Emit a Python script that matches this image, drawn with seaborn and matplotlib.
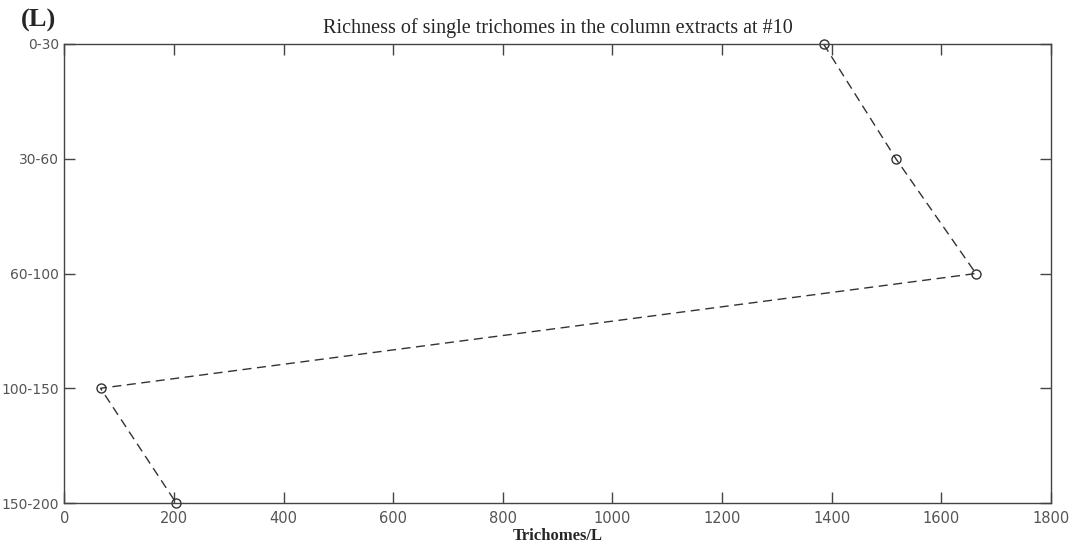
import matplotlib
matplotlib.use("Agg")
import matplotlib.pyplot as plt
import seaborn as sns
import numpy as np
import pandas as pd

depths = ["0-30", "30-60", "60-100", "100-150", "150-200"]
trichomes = [1385, 1517, 1663, 66, 204]
xticks = [0, 200, 400, 600, 800, 1000, 1200, 1400, 1600, 1800]

sns.set_style("white")
fig = plt.figure(figsize=(10.74, 5.47), dpi=100)
ax = fig.add_axes([0.0599, 0.0804, 0.9187, 0.8392])

df = pd.DataFrame({"value": trichomes, "pos": np.arange(len(depths))})
sns.lineplot(data=df, x="value", y="pos", sort=False, estimator=None, orient="y",
             ax=ax, color="#333333", linewidth=1.0, linestyle=(0, (6.5, 4)),
             marker="o", markersize=6.5, markerfacecolor="none",
             markeredgecolor="#333333", markeredgewidth=1.0, clip_on=False)

ax.set_xlim(0, 1800)
ax.set_ylim(len(depths) - 1, 0)
ax.set_xticks(xticks)
ax.set_xticklabels([str(t) for t in xticks], fontsize=10.5, color="#555555", family="DejaVu Sans")
ax.set_yticks(np.arange(len(depths)))
ax.set_yticklabels(depths, fontsize=10, color="#555555", family="DejaVu Sans")
ax.tick_params(axis="x", pad=6)
ax.tick_params(axis="y", pad=4)
ax.tick_params(direction="in", length=8, width=1, color="#444444",
               top=True, right=True, bottom=True, left=True)
for s in ax.spines.values():
    s.set_visible(True)
    s.set_color("#444444")
    s.set_linewidth(1.0)

ax.set_xlabel("Trichomes/L", fontsize=12, fontweight="bold", family="Liberation Serif", labelpad=1)
ax.set_ylabel("")
ax.set_title("Richness of single trichomes in the column extracts at #10",
             fontsize=14.5, family="Liberation Serif", pad=8)
fig.text(0.019, 0.952, "(L)", fontsize=19, fontweight="bold", family="Liberation Serif")

fig.savefig("out.png", dpi=100, facecolor="white")
